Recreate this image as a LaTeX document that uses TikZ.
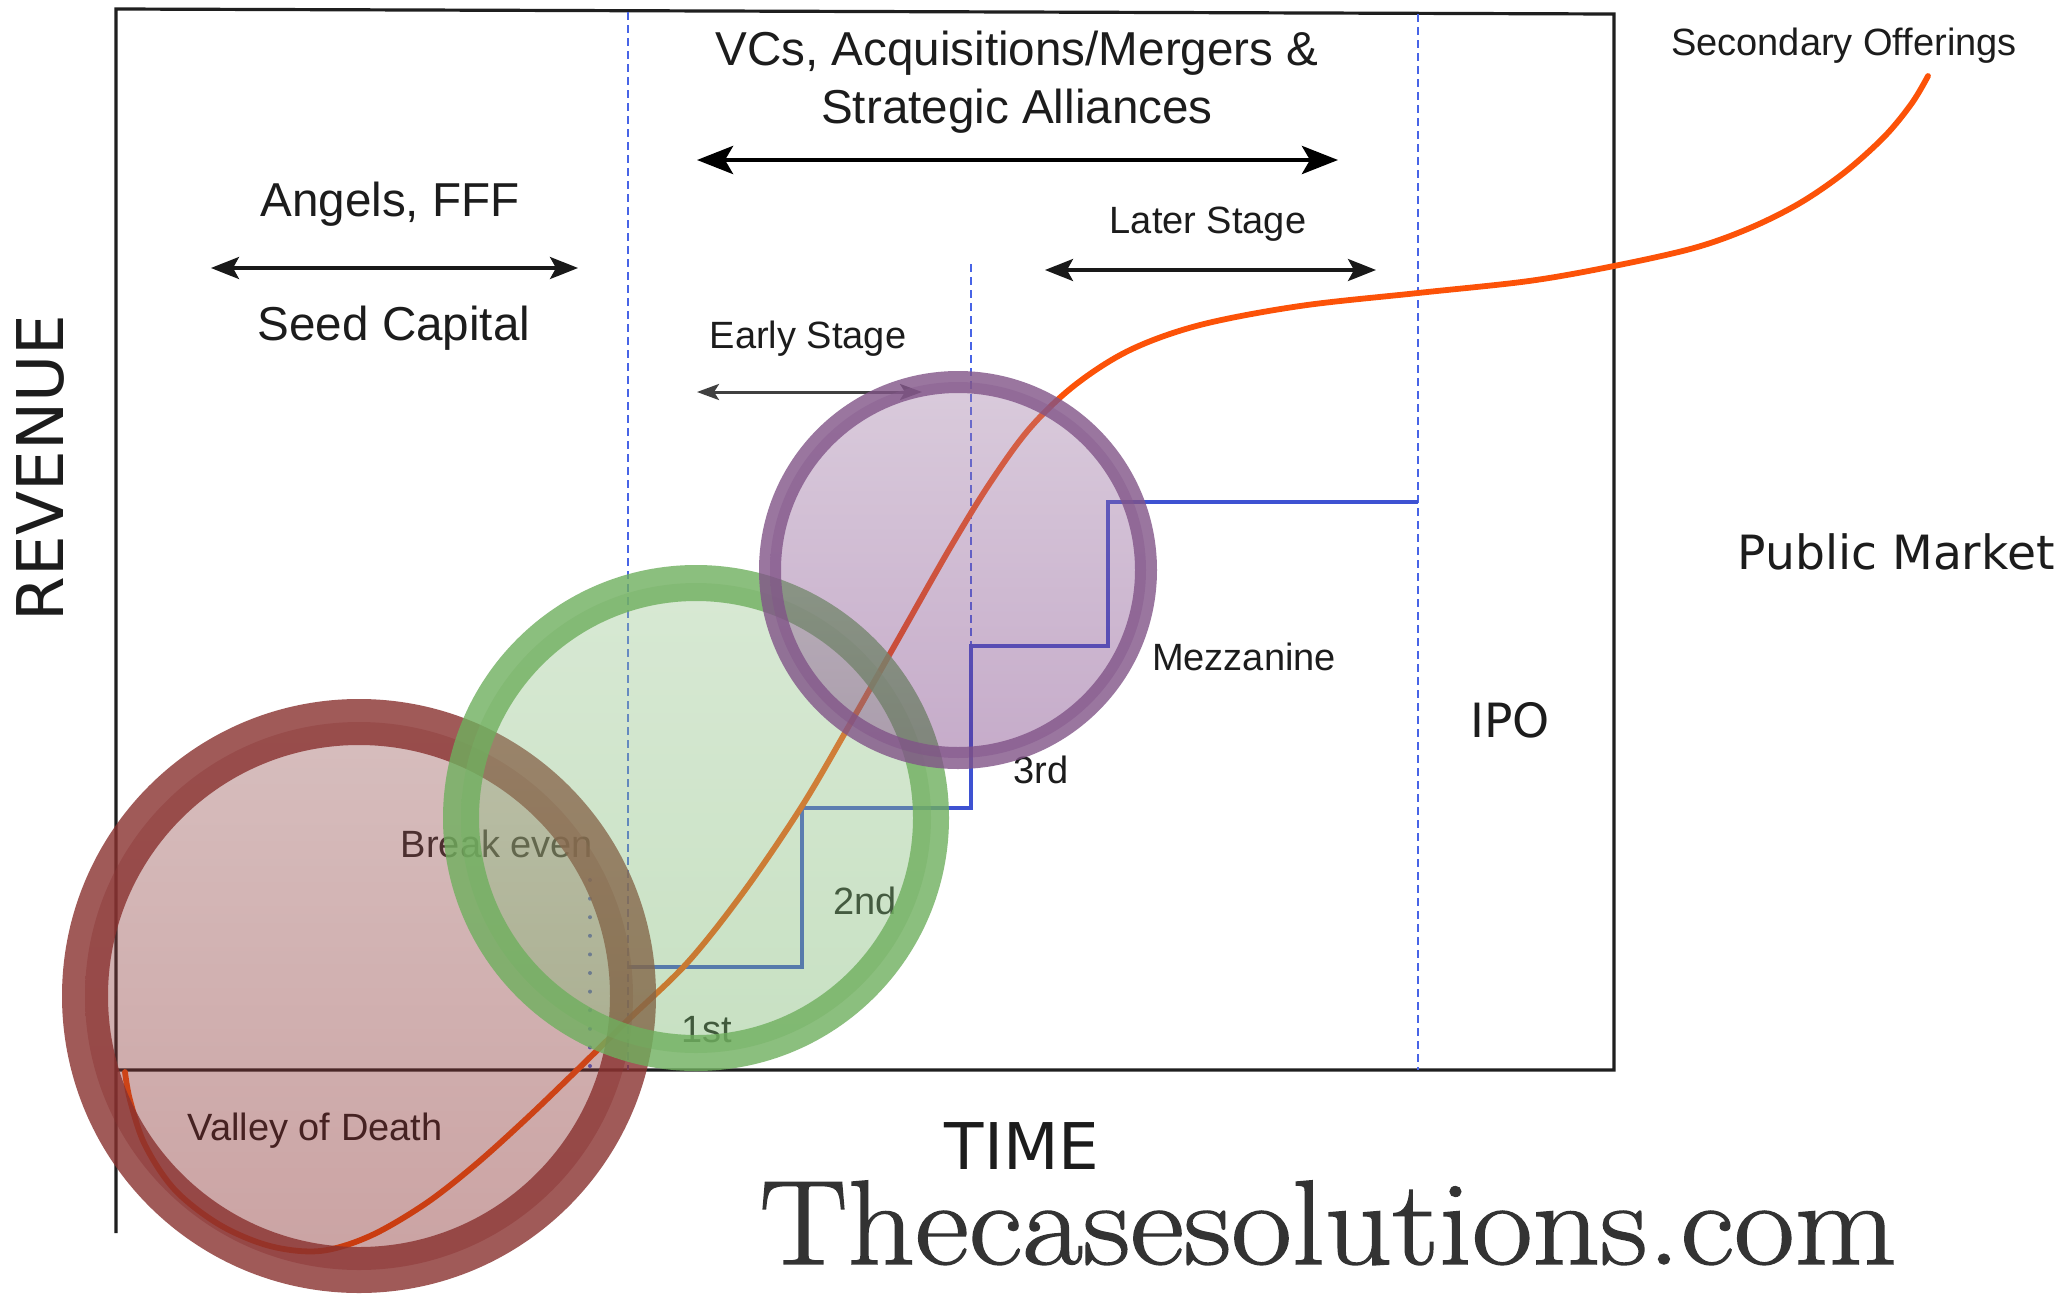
\documentclass[tikz,border=0pt]{standalone}
\usepackage{fontspec}
\newfontfamily\arialf{Liberation Sans}
\newfontfamily\dejaf{DejaVu Sans}
\newfontfamily\wmfont[FakeStretch=1.1,FakeBold=1.2]{Latin Modern Roman}
\usetikzlibrary{arrows.meta}
\definecolor{dashblue}{RGB}{72,100,230}
\definecolor{stepblue}{RGB}{62,82,210}
\definecolor{curveor}{RGB}{252,82,8}
\definecolor{redring}{RGB}{137,49,47}
\definecolor{redtop}{RGB}{155,92,92}
\definecolor{redbot}{RGB}{125,25,25}
\definecolor{grring}{RGB}{111,175,94}
\definecolor{grtop}{RGB}{157,200,147}
\definecolor{grbot}{RGB}{117,180,105}
\definecolor{puring}{RGB}{129,84,136}
\definecolor{putop}{RGB}{162,125,167}
\definecolor{pubot}{RGB}{112,47,122}
\definecolor{labelc}{RGB}{28,28,28}
\definecolor{wmark}{RGB}{51,51,51}
\begin{document}
\begin{tikzpicture}[x=0.5pt,y=-0.5pt,
  bigtxt/.style={font=\arialf\fontsize{23.8}{28}\selectfont, text=labelc, anchor=base, inner sep=0pt},
  smalltxt/.style={font=\arialf\fontsize{19}{22}\selectfont, text=labelc, anchor=base, inner sep=0pt},
  dvtxt/.style={font=\dejaf\fontsize{23.6}{28}\selectfont, text=labelc, anchor=base, inner sep=0pt},
  axistxt/.style={font=\dejaf\fontsize{32.2}{38}\selectfont, text=labelc, anchor=base, inner sep=0pt},
  vdash/.style={dashblue, line width=1.3pt, dash pattern=on 4pt off 2.5pt},
  vdot/.style={dashblue, line width=2pt, line cap=round, dash pattern=on 0pt off 9.3pt},
  stepline/.style={stepblue, line width=1.7pt},
  frameline/.style={black!88, line width=1.6pt, line join=miter},
  bigarr/.style={{Stealth[length=18pt,width=14pt,inset=4pt]}-{Stealth[length=18pt,width=14pt,inset=4pt]}, line width=2.4pt, black},
  midarr/.style={{Stealth[length=14pt,width=11pt,inset=3pt]}-{Stealth[length=14pt,width=11pt,inset=3pt]}, line width=1.7pt, black!90},
  smallarr/.style={{Stealth[length=11pt,width=8pt,inset=2.5pt]}-{Stealth[length=11pt,width=8pt,inset=2.5pt]}, line width=1.5pt, black!75},
  scurve/.style={curveor, line width=2.9pt, line cap=round, line join=round},
  ringred/.style={shade, top color=redtop, bottom color=redbot, fill opacity=0.4, draw=redring, draw opacity=0.8, line width=23pt},
  ringgreen/.style={shade, top color=grtop, bottom color=grbot, fill opacity=0.4, draw=grring, draw opacity=0.8, line width=18pt},
  ringpurple/.style={shade, top color=putop, bottom color=pubot, fill opacity=0.4, draw=puring, draw opacity=0.8, line width=11pt}
]
\useasboundingbox (0,0) rectangle (2068,1296);
\fill[white] (0,0) rectangle (2068,1296);

% frame / axes
\draw[frameline] (116,1233) -- (116,9) -- (1614,14) -- (1614,1070) -- (116,1070);

% dashed stage separators
\draw[vdash] (628,12) -- (628,1070);
\draw[vdash] (1418,14) -- (1418,1070);
\draw[vdash] (971,264) -- (971,808);
\draw[vdot] (590,880) -- (590,1070);

% funding steps
\draw[stepline] (628,967) -- (802,967) -- (802,808) -- (971,808) -- (971,646) -- (1108,646) -- (1108,502) -- (1418,502);

% arrows
\coordinate (vcL) at (697,160); \coordinate (vcR) at (1338,160);
\coordinate (anL) at (211,268); \coordinate (anR) at (578,268);
\coordinate (ltL) at (1045,270); \coordinate (ltR) at (1376,270);
\coordinate (esL) at (697,392); \coordinate (esR) at (922,392);
\draw[bigarr] (vcL) -- (vcR);
\draw[midarr] (anL) -- (anR);
\draw[midarr] (ltL) -- (ltR);
\draw[smallarr] (esL) -- (esR);

% labels
\node[bigtxt] (vc1) at (1017,65) {VCs, Acquisitions/Mergers \&};
\node[bigtxt] (vc2) at (1017,123) {Strategic Alliances};
\node[bigtxt] (angels) at (390,216) {Angels, FFF};
\node[bigtxt] (seed) at (394,340) {Seed Capital};
\node[smalltxt] (later) at (1208,233) {Later Stage};
\node[smalltxt] (early) at (808,348) {Early Stage};
\node[smalltxt] (second) at (1844,55) {Secondary Offerings};
\node[dvtxt] (public) at (1896,569) {Public Market};
\node[dvtxt] (ipo) at (1510,737) {IPO};
\node[smalltxt] (mezz) at (1244,670) {Mezzanine};
\node[smalltxt] (third) at (1041,783) {3rd};
\node[smalltxt] (sec) at (865,914) {2nd};
\node[smalltxt] (first) at (707,1042) {1st};
\node[smalltxt] (breakeven) at (497,857) {Break even};
\node[smalltxt] (valley) at (315,1140) {Valley of Death};
\node[axistxt] (time) at (1022,1169) {TIME};
\node[axistxt, rotate=90] (revenue) at (63,468) {REVENUE};
\node[font=\wmfont\fontsize{60}{70}\selectfont, text=wmark, anchor=base, inner sep=0pt] (wm) at (1328,1264) {Thecasesolutions.com};

% revenue S-curve
\draw[scurve] plot[smooth, tension=0.55] coordinates {
 (125,1072) (130,1100) (145,1145) (175,1190) (220,1225) (270,1246) (320,1251)
 (370,1236) (425,1204) (475,1165) (525,1120) (575,1072) (628,1020) (688,962)
 (745,890) (802,806) (850,724) (900,636) (950,548) (990,483) (1030,428)
 (1075,385) (1130,350) (1200,325) (1300,306) (1418,293) (1529,281) (1614,266)
 (1694,248) (1750,228) (1800,203) (1845,172) (1885,136) (1912,103) (1928,76)};

% stage circles
\path[ringred] (359,996) circle[radius=274];
\path[ringgreen] (696,818) circle[radius=235];
\path[ringpurple] (958,570) circle[radius=188];
\end{tikzpicture}
\end{document}
